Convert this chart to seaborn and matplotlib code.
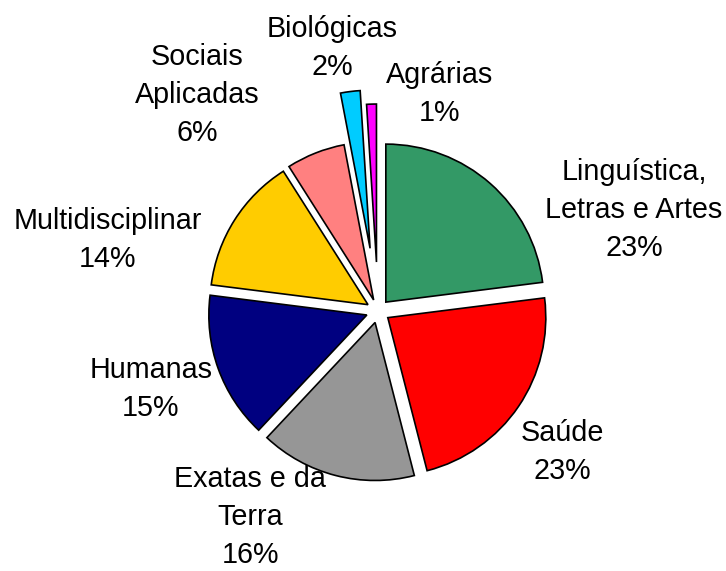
# Pie chart: distribution by knowledge area



# Import libraries ............................................................

import matplotlib
matplotlib.use("Agg")
import seaborn as sns
import matplotlib.pyplot as plt



# Data ........................................................................

areas = ["Linguística,\nLetras e Artes", "Saúde", "Exatas e da\nTerra", "Humanas",
         "Multidisciplinar", "Sociais\nAplicadas", "Biológicas", "Agrárias"]
shares = [23, 23, 16, 15, 14, 6, 2, 1]
colors = ["#339966", "#FF0000", "#969696", "#000080",
          "#FFCC00", "#FF8080", "#00CCFF", "#FF00FF"]
explode = [0.075, 0.075, 0.075, 0.075, 0.075, 0.075, 0.40, 0.31]

# Label centres (pie radius = 1)
label_xy = [(1.62, 0.64), (1.165, -0.89), (-0.81, -1.305), (-1.437, -0.494),
            (-1.709, 0.449), (-1.146, 1.367), (-0.291, 1.665), (0.392, 1.373)]



# Plot ........................................................................

sns.set_style("white")
plt.rcParams["font.family"] = ["Liberation Sans", "DejaVu Sans"]

fig = plt.figure(figsize = (7.26, 5.71), dpi = 100)
ax = fig.add_axes([0, 0, 1, 1])

ax.pie(shares, colors = colors, explode = explode, startangle = 90,
       counterclock = False, radius = 1,
       wedgeprops = dict(edgecolor = "black", linewidth = 1.2))

for name, val, (x, y) in zip(areas, shares, label_xy):
    ax.text(x, y, f"{name}\n{val}%", ha = "center", va = "center",
            multialignment = "center", fontsize = 20.7, color = "black",
            linespacing = 1.45)

# 158 px per unit in both directions, centre at (378, 311)
ax.set_xlim(-378 / 158, (726 - 378) / 158)
ax.set_ylim(-(571 - 311) / 158, 311 / 158)
ax.set_aspect("auto")
ax.axis("off")

plt.savefig("out.png", dpi = 100)
